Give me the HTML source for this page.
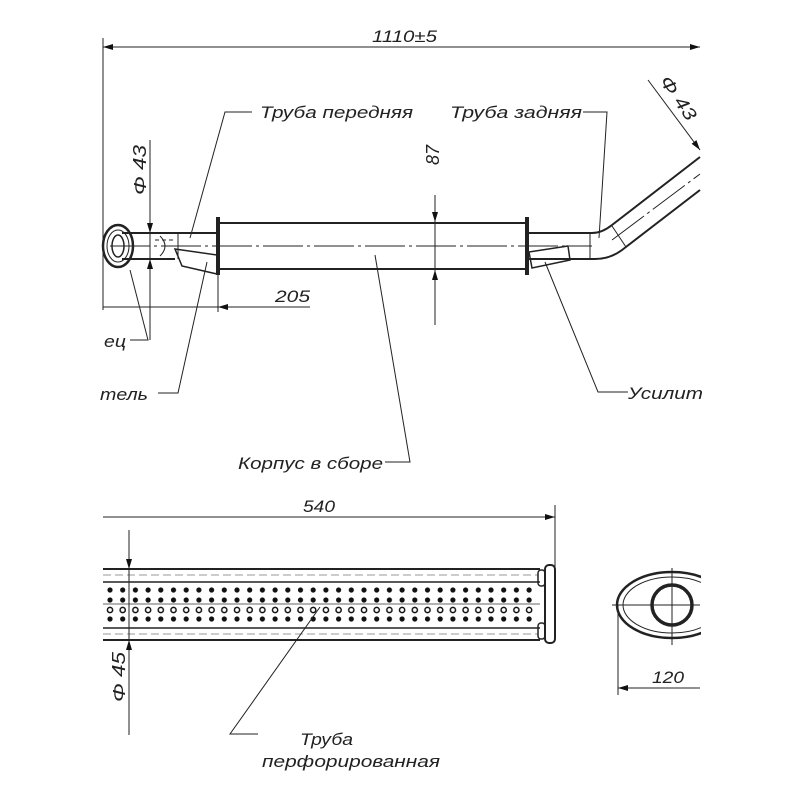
<!DOCTYPE html>
<html><head><meta charset="utf-8"><style>
html,body{margin:0;padding:0;background:#fff;}
svg{display:block;}
text{font-family:"Liberation Sans","DejaVu Sans",sans-serif;font-style:italic;fill:#222;}
</style></head><body>
<svg width="800" height="800" viewBox="0 0 800 800" xmlns="http://www.w3.org/2000/svg">
<defs>
<marker id="a" viewBox="0 0 10 6" refX="10" refY="3" markerWidth="14" markerHeight="6" markerUnits="userSpaceOnUse" orient="auto-start-reverse"><path d="M0,0 L10,3 L0,6 Z" fill="#111"/></marker>
<pattern id="holes" x="106" y="584" width="12.7" height="40" patternUnits="userSpaceOnUse">
<circle cx="4" cy="6" r="2.6" fill="#111"/>
<circle cx="4" cy="16" r="2.6" fill="#111"/>
<circle cx="4" cy="26" r="2.6" fill="none" stroke="#111" stroke-width="1.5"/>
<circle cx="4" cy="35" r="2.6" fill="#111"/>
</pattern>
<clipPath id="cr"><rect x="0" y="0" width="701" height="800"/></clipPath>
</defs>
<g stroke="#222" fill="none" stroke-width="1" clip-path="url(#cr)">
<line x1="103" y1="47" x2="700" y2="47" marker-start="url(#a)" marker-end="url(#a)"/>
<line x1="103" y1="38" x2="103" y2="310"/>
<line x1="122" y1="233" x2="217" y2="233" stroke-width="2"/>
<line x1="122" y1="259" x2="175" y2="259" stroke-width="2"/>
<line x1="155" y1="240" x2="175" y2="240" stroke-dasharray="4 3"/>
<path d="M175,249 L217,255 L217,274 L182,266 Z" stroke-width="1.5"/>
<line x1="178" y1="233" x2="178" y2="259"/>
<path d="M160,236 Q170,246 160,256"/>
<ellipse cx="118" cy="246" rx="15" ry="21" stroke-width="2.5"/>
<ellipse cx="118" cy="246" rx="11" ry="16"/>
<ellipse cx="118" cy="246" rx="6" ry="11" stroke-width="1.5"/>
<rect x="219" y="223" width="308" height="46" stroke-width="2"/>
<line x1="218" y1="217" x2="218" y2="275" stroke-width="4"/>
<line x1="527" y1="217" x2="527" y2="275" stroke-width="4"/>
<line x1="110" y1="246" x2="592" y2="246" stroke-dasharray="40 4 3 4"/>
<line x1="612" y1="240" x2="700" y2="174" stroke-dasharray="40 4 3 4"/>
<path d="M528,233 L592,233 Q602,233 612,225 L700,157" stroke-width="2"/>
<path d="M528,259 L595,259 Q610,259 622,250 L700,190" stroke-width="2"/>
<path d="M529,252 L568,246 L570,260 L532,268 Z" stroke-width="1.5"/>
<line x1="590" y1="233" x2="590" y2="259"/>
<line x1="612" y1="226" x2="626" y2="247"/>
<line x1="435" y1="195" x2="435" y2="325"/>
<line x1="435" y1="205" x2="435" y2="222" marker-end="url(#a)"/>
<line x1="435" y1="290" x2="435" y2="270" marker-end="url(#a)"/>
<line x1="427" y1="223" x2="445" y2="223"/><line x1="427" y1="269" x2="445" y2="269"/>
<line x1="103" y1="307" x2="310" y2="307"/>
<line x1="245" y1="307" x2="218" y2="307" marker-end="url(#a)"/>
<line x1="218" y1="270" x2="218" y2="312"/>
<line x1="150" y1="140" x2="150" y2="340"/>
<line x1="150" y1="205" x2="150" y2="233" marker-end="url(#a)"/>
<line x1="150" y1="290" x2="150" y2="259" marker-end="url(#a)"/>
<line x1="648" y1="80" x2="700" y2="150" marker-end="url(#a)"/>
<polyline points="252,112 225,112 190,238"/>
<polyline points="583,112 607,112 599,238"/>
<polyline points="130,340 148,340 130,270"/>
<polyline points="158,393 178,393 207,262"/>
<polyline points="385,462 410,462 375,255"/>
<polyline points="628,392 598,392 545,262"/>
<line x1="103" y1="517" x2="555" y2="517" marker-end="url(#a)"/>
<line x1="555" y1="505" x2="555" y2="570"/>
<line x1="103" y1="569" x2="540" y2="569" stroke-width="2"/>
<line x1="103" y1="640" x2="540" y2="640" stroke-width="2"/>
<line x1="103" y1="582" x2="540" y2="582" stroke-width="1.5"/>
<line x1="103" y1="628" x2="540" y2="628" stroke-width="1.5"/>
<line x1="103" y1="575" x2="538" y2="575" stroke-dasharray="8 4" stroke="#999"/>
<line x1="103" y1="634" x2="538" y2="634" stroke-dasharray="8 4" stroke="#999"/>
<line x1="103" y1="604" x2="540" y2="604" stroke="#666"/>
<rect x="104" y="584" width="434" height="42" fill="url(#holes)" stroke="none"/>
<rect x="538" y="570" width="7" height="16" rx="3" stroke-width="1.5"/>
<rect x="538" y="623" width="7" height="16" rx="3" stroke-width="1.5"/>
<rect x="545" y="565" width="10" height="78" rx="4" stroke-width="2"/>
<line x1="129" y1="530" x2="129" y2="735"/>
<line x1="129" y1="545" x2="129" y2="569" marker-end="url(#a)"/>
<line x1="129" y1="665" x2="129" y2="640" marker-end="url(#a)"/>
<polyline points="320,607 230,734 258,734"/>
<ellipse cx="672" cy="605" rx="55" ry="33" stroke-width="2.5"/>
<ellipse cx="672" cy="605" rx="49" ry="28"/>
<circle cx="672" cy="605" r="20" stroke-width="3.5"/>
<line x1="612" y1="605" x2="700" y2="605"/>
<line x1="672" y1="568" x2="672" y2="645"/>
<line x1="618" y1="605" x2="618" y2="695"/>
<line x1="618" y1="688" x2="700" y2="688" marker-start="url(#a)"/>
</g>
<g font-size="17">
<text x="372" y="42" textLength="65" lengthAdjust="spacingAndGlyphs">1110±5</text>
<text x="260" y="118" textLength="153" lengthAdjust="spacingAndGlyphs">Труба передняя</text>
<text x="450" y="118" textLength="132" lengthAdjust="spacingAndGlyphs">Труба задняя</text>
<text x="275" y="302" textLength="35" lengthAdjust="spacingAndGlyphs">205</text>
<text x="104" y="347" textLength="22" lengthAdjust="spacingAndGlyphs">ец</text>
<text x="100" y="400" textLength="48" lengthAdjust="spacingAndGlyphs">тель</text>
<text x="238" y="469" textLength="145" lengthAdjust="spacingAndGlyphs">Корпус в сборе</text>
<text x="628" y="399" textLength="75" lengthAdjust="spacingAndGlyphs">Усилит</text>
<text x="303" y="512" textLength="32" lengthAdjust="spacingAndGlyphs">540</text>
<text x="652" y="683" textLength="32" lengthAdjust="spacingAndGlyphs">120</text>
<text x="300" y="745" textLength="53" lengthAdjust="spacingAndGlyphs">Труба</text>
<text x="262" y="767" textLength="178" lengthAdjust="spacingAndGlyphs">перфорированная</text>
<text transform="translate(439,165) rotate(-90)" font-size="18">87</text>
<text transform="translate(146,195) rotate(-90)" font-size="18" textLength="50" lengthAdjust="spacingAndGlyphs">Φ 43</text>
<text transform="translate(125,702) rotate(-90)" font-size="18" textLength="50" lengthAdjust="spacingAndGlyphs">Φ 45</text>
<text transform="translate(659,81) rotate(55)" font-size="18" textLength="50" lengthAdjust="spacingAndGlyphs">Φ 43</text>
</g>
</svg>
</body></html>
